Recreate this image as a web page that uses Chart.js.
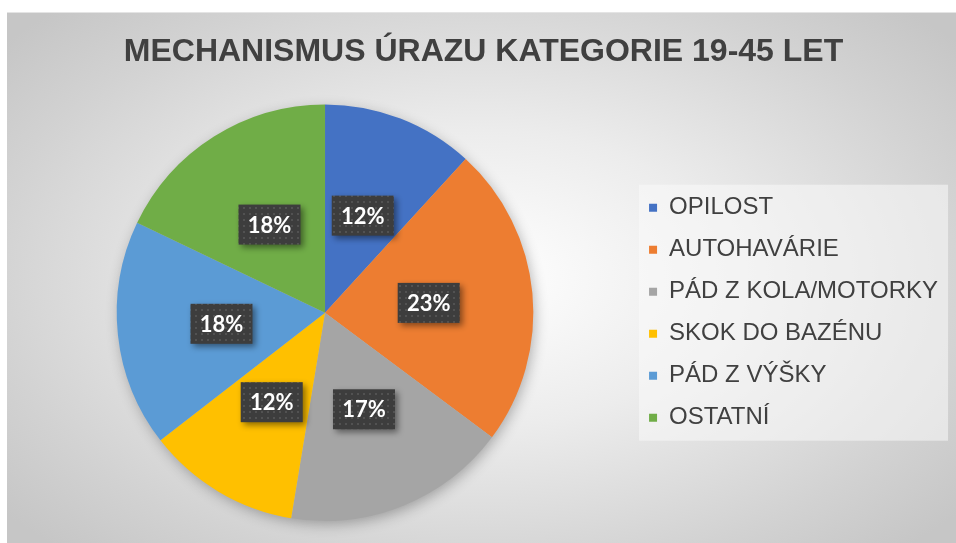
<!DOCTYPE html>
<html>
<head>
<meta charset="utf-8">
<script src="https://cdn.jsdelivr.net/npm/chart.js@4"></script>
<style>
  body { margin: 0; background: #fff; }
  #wrap {
    position: absolute; left: 7px; top: 12px; width: 949px; height: 531px;
    background: radial-gradient(ellipse 65% 70% at 50% 50%, #ffffff 0%, #ececec 40%, #d2d2d2 80%, #c6c6c6 100%);
    border-top: 1px solid #e4e4e4;
    box-sizing: border-box;
  }
</style>
</head>
<body>
<div id="wrap"><canvas id="myChart"></canvas></div>
<script>
let popCanvas = document.getElementById("myChart");

// data (percent)
let categories = ["OPILOST", "AUTOHAVÁRIE", "PÁD Z KOLA/MOTORKY", "SKOK DO BAZÉNU", "PÁD Z VÝŠKY", "OSTATNÍ"];
let shares = [11.8, 23.4, 17.4, 11.9, 17.6, 17.9];
let sliceColors = ['#4472C4', '#ED7D31', '#A5A5A5', '#FFC000', '#5B9BD5', '#70AD47'];

// dotted dark fill for the value boxes
let dotCanvas = document.createElement('canvas');
dotCanvas.width = 6; dotCanvas.height = 6;
let dctx = dotCanvas.getContext('2d');
dctx.fillStyle = '#3d3d3d';
dctx.fillRect(0, 0, 6, 6);
dctx.fillStyle = '#525252';
dctx.fillRect(2, 2, 2, 2);

// soft shadow under the whole pie
let pieShadow = {
  id: 'pieShadow',
  beforeDatasetsDraw(chart) {
    let arc = chart.getDatasetMeta(0).data[0];
    if (!arc) return;
    let ctx = chart.ctx;
    ctx.save();
    ctx.shadowColor = 'rgba(0,0,0,0.3)';
    ctx.shadowBlur = 14;
    ctx.shadowOffsetX = 2;
    ctx.shadowOffsetY = 4;
    ctx.fillStyle = '#bbbbbb';
    ctx.beginPath();
    ctx.arc(arc.x, arc.y, arc.outerRadius - 1, 0, Math.PI * 2);
    ctx.fill();
    ctx.restore();
  }
};

// light panel behind the legend
let legendPanel = {
  id: 'legendPanel',
  beforeDraw(chart) {
    let lg = chart.legend;
    if (!lg || !lg.legendHitBoxes.length) return;
    let boxes = lg.legendHitBoxes;
    let left = boxes[0].left - 10;
    let top = boxes[0].top - 11;
    let last = boxes[boxes.length - 1];
    let bottom = last.top + last.height + 11;
    let ctx = chart.ctx;
    ctx.save();
    ctx.fillStyle = 'rgba(250,250,250,0.55)';
    ctx.fillRect(left, top, 309, bottom - top);
    ctx.restore();
  }
};

// percentage boxes on the slices
let valueBoxes = {
  id: 'valueBoxes',
  afterDatasetsDraw(chart) {
    let ctx = chart.ctx;
    let meta = chart.getDatasetMeta(0);
    let total = shares.reduce((a, b) => a + b, 0);
    let pattern = ctx.createPattern(dotCanvas, 'repeat');
    meta.data.forEach((arc, i) => {
      let pos = arc.tooltipPosition();
      let txt = Math.round(shares[i] / total * 100) + '%';
      let w = 62, h = 40;
      ctx.save();
      ctx.shadowColor = 'rgba(0,0,0,0.45)';
      ctx.shadowBlur = 6;
      ctx.shadowOffsetX = 3;
      ctx.shadowOffsetY = 3;
      ctx.fillStyle = pattern;
      ctx.fillRect(pos.x - w / 2, pos.y - h / 2, w, h);
      ctx.restore();
      ctx.save();
      ctx.fillStyle = '#ffffff';
      ctx.font = 'bold 22px Lato, "Open Sans", sans-serif';
      ctx.textAlign = 'center';
      ctx.textBaseline = 'middle';
      ctx.fillText(txt, pos.x, pos.y + 1);
      ctx.restore();
    });
  }
};

let injuryData = {
  labels: categories,
  datasets: [{
    data: shares,
    backgroundColor: sliceColors,
    borderWidth: 0
  }]
};

let pieChart = new Chart(popCanvas, {
  type: 'pie',
  data: injuryData,
  options: {
    responsive: true,
    maintainAspectRatio: false,
    animation: false,
    layout: { padding: { left: 12, right: 8, top: 0, bottom: 22 } },
    plugins: {
      title: {
        display: true,
        text: 'MECHANISMUS ÚRAZU KATEGORIE 19-45 LET',
        color: '#404040',
        font: { family: '"Liberation Sans", Arial, sans-serif', size: 32, weight: 'bold' },
        padding: { top: 20, bottom: 33 }
      },
      legend: {
        position: 'right',
        fullSize: false,
        labels: {
          boxWidth: 8,
          boxHeight: 8,
          padding: 18,
          color: '#404040',
          font: { family: '"Liberation Sans", Arial, sans-serif', size: 24 }
        }
      },
      tooltip: { enabled: false }
    }
  },
  plugins: [pieShadow, legendPanel, valueBoxes]
});
</script>
</body>
</html>
